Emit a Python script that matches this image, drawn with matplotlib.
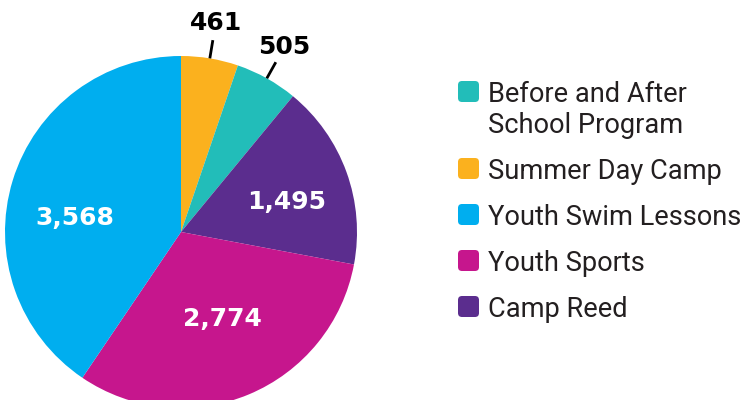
import matplotlib.pyplot as plt
from matplotlib.patches import FancyBboxPatch
import numpy as np

# dados do gráfico (ordem horária a partir do topo)
programas = ['Summer Day Camp', 'Before and After\nSchool Program', 'Camp Reed',
             'Youth Sports', 'Youth Swim Lessons']
valores = [461, 505, 1495, 2774, 3568]
cores = ['#FBB11E', '#22BDB9', '#5B2D8E', '#C6168D', '#00AEEF']
rotulos = ['461', '505', '1,495', '2,774', '3,568']

# ordem da legenda
ordem_legenda = [1, 0, 4, 3, 2]

plt.rcParams['font.family'] = ['Roboto', 'DejaVu Sans']

fig = plt.figure(figsize=(7.47, 4.0), dpi=100)
ax = fig.add_axes([0, 0, 1, 1])

cx, cy, raio = 181, 400 - 232, 176
wedges, _ = ax.pie(valores, colors=cores, startangle=90, counterclock=False,
                   center=(cx, cy), radius=raio, frame=True)

# rótulos: fatias pequenas fora com linha, grandes dentro
fonte_num = dict(family='DejaVu Sans', fontsize=18, fontweight='bold',
                 ha='center', va='center')
pos_dentro = {2: (287, 202), 3: (222, 319), 4: (75, 218)}
for i, w in enumerate(wedges):
    ang = np.deg2rad((w.theta1 + w.theta2) / 2)
    if i in pos_dentro:
        x, y = pos_dentro[i]
        ax.text(x, 400 - y, rotulos[i], color='white', **fonte_num)
    else:
        ax.plot([cx + raio * np.cos(ang), cx + 1.105 * raio * np.cos(ang)],
                [cy + raio * np.sin(ang), cy + 1.105 * raio * np.sin(ang)],
                color='black', lw=2, solid_capstyle='butt')
        ax.text(cx + 1.205 * raio * np.cos(ang), cy + 1.205 * raio * np.sin(ang),
                rotulos[i], color='black', **fonte_num)

# legenda feita à mão
y_base = 102
for i in ordem_legenda:
    ax.add_patch(FancyBboxPatch((458, 400 - y_base), 21, 21,
                                boxstyle='round,pad=0,rounding_size=4',
                                facecolor=cores[i], edgecolor='none'))
    linhas = programas[i].split('\n')
    for k, linha in enumerate(linhas):
        ax.text(488, 400 - y_base - 31 * k, linha, fontsize=19.6, color='#231F20',
                ha='left', va='baseline')
    y_base += 46 + 31 * (len(linhas) - 1)

ax.set_xlim(0, 747)
ax.set_ylim(0, 400)
ax.set_aspect('equal')
ax.axis('off')

plt.savefig('out.png', dpi=100)
